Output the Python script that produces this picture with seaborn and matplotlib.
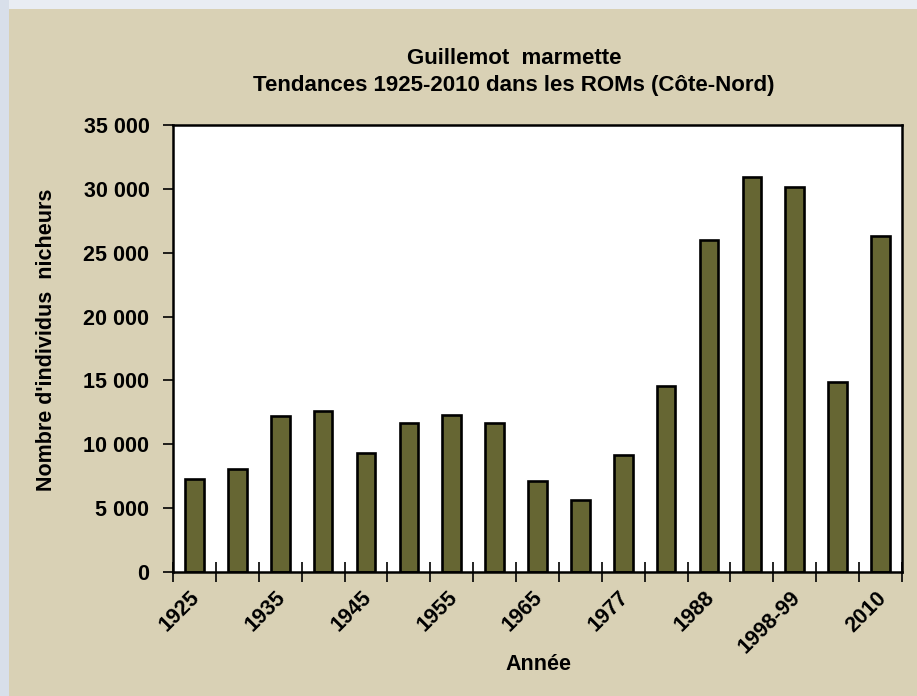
"""
Guillemot marmette - tendances 1925-2010 dans les ROMs (Côte-Nord)
Bar chart recreated with seaborn
"""

import numpy as np
import pandas as pd
import matplotlib
matplotlib.use("Agg")
import matplotlib.pyplot as plt
import matplotlib.transforms as mtransforms
from matplotlib.ticker import FuncFormatter
from matplotlib.patches import Rectangle
import seaborn as sns

# Data; only every second year is labelled on the axis
years = ['1925', '1930', '1935', '1940', '1945', '1950', '1955', '1960', '1965',
         '1972', '1977', '1982', '1988', '1993', '1998-99', '2005', '2010']
nicheurs = [7250, 8050, 12200, 12600, 9350, 11650, 12300, 11700, 7150,
            5600, 9150, 14600, 26000, 30900, 30150, 14900, 26300]

df = pd.DataFrame({'annee': years, 'nicheurs': nicheurs})

BEIGE = '#d9d1b5'
OLIVE = '#666633'
FONT = 'Liberation Sans'
FS = 15.5

sns.set_style('ticks')
plt.rcParams['font.family'] = [FONT, 'DejaVu Sans']
plt.rcParams['text.color'] = 'black'
plt.rcParams['axes.labelcolor'] = 'black'
plt.rcParams['xtick.color'] = 'black'
plt.rcParams['ytick.color'] = 'black'

fig = plt.figure(figsize=(9.17, 6.96), dpi=100, facecolor=BEIGE)
# slide frame strips (top and left)
fig.patches.append(Rectangle((0, 1 - 9 / 696), 1, 9 / 696, transform=fig.transFigure,
                             facecolor='#e9edf3', edgecolor='none', zorder=0))
fig.patches.append(Rectangle((0, 0), 9 / 917, 1, transform=fig.transFigure,
                             facecolor='#d8dfea', edgecolor='none', zorder=0))

ax = fig.add_axes([173 / 917, 1 - 572 / 696, (902 - 173) / 917, (572 - 125) / 696])
ax.set_facecolor('white')

sns.barplot(data=df, x='annee', y='nicheurs', color=OLIVE, saturation=1,
            edgecolor='black', linewidth=1.9, width=0.435, ax=ax)

ax.set_ylim(0, 35000)
ax.set_yticks(np.arange(0, 35001, 5000))
ax.yaxis.set_major_formatter(FuncFormatter(lambda v, p: f"{int(v):,}".replace(',', ' ')))
ax.set_xlim(-0.5, len(years) - 0.5)

for s in ax.spines.values():
    s.set_visible(True)
    s.set_linewidth(1.8)
    s.set_color('black')

# category boundaries as crossing tick marks, labels on every second category
ax.set_xticks(np.arange(-0.5, len(years), 1))
ax.set_xticklabels([])
ax.tick_params(axis='x', which='major', direction='inout', length=14, width=1.2)
ax.set_xticks(np.arange(0, len(years), 2), minor=True)
ax.set_xticklabels(years[::2], minor=True, rotation=45, ha='right',
                   rotation_mode='anchor', fontsize=FS, fontweight='bold')
ax.tick_params(axis='x', which='minor', length=0, pad=11)
shift = mtransforms.ScaledTranslation(-5 / 100, 0, fig.dpi_scale_trans)
for lbl in ax.get_xticklabels(minor=True):
    lbl.set_transform(lbl.get_transform() + shift)

ax.tick_params(axis='y', direction='out', length=7, width=1.2, labelsize=FS, pad=10)
for lbl in ax.get_yticklabels():
    lbl.set_fontweight('bold')

ax.set_xlabel('Année', fontsize=FS, fontweight='bold', va='center')
ax.xaxis.set_label_coords((538 - 173) / 729, (572 - 665) / 447)
ax.set_ylabel("Nombre d'individus  nicheurs", fontsize=FS, fontweight='bold', va='center')
ax.yaxis.set_label_coords((47 - 173) / 729, (572 - 340) / 447)

fig.text(514 / 917, 1 - 58 / 696, 'Guillemot  marmette', ha='center', va='center',
         fontsize=16, fontweight='bold')
fig.text(514 / 917, 1 - 85 / 696, 'Tendances 1925-2010 dans les ROMs (Côte-Nord)',
         ha='center', va='center', fontsize=16, fontweight='bold')

fig.savefig('out.png', dpi=100, facecolor=BEIGE)
